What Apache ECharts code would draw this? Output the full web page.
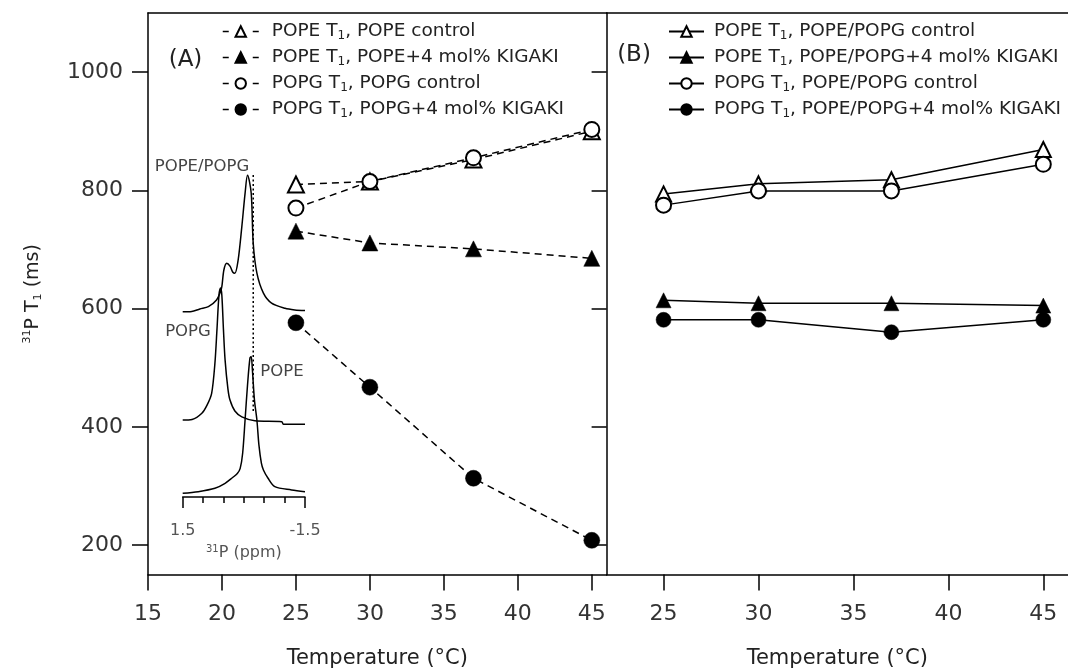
<!DOCTYPE html>
<html>
<head>
<meta charset="utf-8">
<script src="https://cdn.jsdelivr.net/npm/echarts@6/dist/echarts.min.js"></script>
<style>
html, body { margin: 0; padding: 0; background: #fff; }
#chart { width: 1068px; height: 671px; }
</style>
</head>
<body>
<div id="chart"></div>
<script>
// Temperatures (°C) at which T1 was measured
const temperatures = [25, 30, 37, 45];

// Panel A: single-lipid vesicles, 31P T1 (ms)
const popeControlA = [810, 815, 852, 900];
const popeKigakiA  = [731, 711, 701, 685];
const popgControlA = [770, 815, 855, 903];
const popgKigakiA  = [576, 467, 313, 208];

// Panel B: POPE/POPG mixed vesicles, 31P T1 (ms)
const popeControlB = [794, 811, 818, 869];
const popeKigakiB  = [614, 609, 609, 605];
const popgControlB = [775, 799, 799, 844];
const popgKigakiB  = [581, 581, 560, 581];

// Tick positions
const yTicks = [200, 400, 600, 800, 1000];
const xTicksA = [15, 20, 25, 30, 35, 40, 45];
const xTicksB = [25, 30, 35, 40, 45];
const ppmEndTicks = [-1.5, 1.5];
const ppmInnerTicks = [-1, -0.5, 0, 0.5, 1];

// Inset 31P spectra: [chemical shift (ppm), stacked intensity (a.u.)]
const spectrumMix = [
  [1.5, 57.5], [1.28, 57.6], [1.08, 58.4], [0.87, 59.1], [0.67, 61.2], [0.58, 63.5],
  [0.54, 65.3], [0.49, 70.5], [0.42, 72.6], [0.34, 71.7], [0.27, 69.8], [0.22, 69.5],
  [0.14, 73.6], [0.05, 83.9], [-0.03, 94.3], [-0.09, 100], [-0.18, 94.4], [-0.23, 78.8],
  [-0.32, 69.5], [-0.48, 63.3], [-0.68, 60.2], [-1.01, 58.6], [-1.25, 58.1], [-1.5, 57.9]
];
const spectrumPopg = [
  [1.5, 23.9], [1.27, 24.1], [1.03, 26.0], [0.9, 28.6], [0.79, 32.2], [0.71, 41.5],
  [0.66, 51.9], [0.61, 62.7], [0.57, 64.9], [0.54, 62.7], [0.5, 51.9], [0.46, 42.5],
  [0.39, 33.5], [0.34, 30.1], [0.22, 26.7], [0.05, 24.9], [-0.27, 23.7], [-0.93, 23.4],
  [-0.97, 22.6], [-1.5, 22.6]
];
const spectrumPope = [
  [1.5, 1.15], [1.12, 1.65], [0.71, 2.7], [0.46, 4.25], [0.29, 5.9], [0.16, 7.3],
  [0.09, 8.9], [0.03, 13.5], [-0.03, 23.9], [-0.09, 34.8], [-0.15, 43.2], [-0.18, 43.6],
  [-0.21, 39.4], [-0.26, 30.1], [-0.32, 23.9], [-0.37, 16.1], [-0.43, 10.5], [-0.48, 8.4],
  [-0.59, 5.9], [-0.76, 3.2], [-1.17, 2.2], [-1.5, 1.65]
];
const peakMarker = [[-0.23, 100], [-0.23, 26.5]];

const FONT = 'DejaVu Sans';
const INK = '#000';

const pairs = vals => temperatures.map((t, i) => [t, vals[i]]);

// Legend names carry a subscript "1" after T
const fmtName = n => {
  const i = n.indexOf('T1');
  return '{n|' + n.slice(0, i) + 'T}{s|1}{n|' + n.slice(i + 2) + '}';
};

function tSeries(name, vals, xi, yi, symbol, size, dashed) {
  const empty = symbol.indexOf('empty') === 0;
  return {
    name, type: 'line', xAxisIndex: xi, yAxisIndex: yi,
    data: pairs(vals), symbol, symbolSize: size, showSymbol: true,
    lineStyle: { color: INK, width: 1.5, type: dashed ? [7, 5] : 'solid' },
    itemStyle: empty ? { color: INK, borderWidth: 1.5 } : { color: INK, borderColor: INK, borderWidth: 0.5 },
    z: 5
  };
}

function spectrum(data, dotted) {
  return {
    type: 'line', xAxisIndex: 4, yAxisIndex: 2, data, symbol: 'none', silent: true,
    smooth: dotted ? false : 0.3,
    lineStyle: { color: INK, width: 1.5, type: dotted ? [2, 2.5] : 'solid' }, z: 3
  };
}

const namesA = ['POPE T1, POPE control', 'POPE T1, POPE+4 mol% KIGAKI',
                'POPG T1, POPG control', 'POPG T1, POPG+4 mol% KIGAKI'];
const namesB = ['POPE T1, POPE/POPG control', 'POPE T1, POPE/POPG+4 mol% KIGAKI',
                'POPG T1, POPE/POPG control', 'POPG T1, POPE/POPG+4 mol% KIGAKI'];

const legendText = (padLeft) => ({
  fontFamily: FONT, fontSize: 18.5, color: '#222', padding: [0, 0, 0, padLeft],
  rich: {
    n: { fontFamily: FONT, fontSize: 18.5, lineHeight: 20, color: '#222' },
    s: { fontFamily: FONT, fontSize: 12, lineHeight: 12, verticalAlign: 'bottom', color: '#222' }
  }
});

const axisLbl = { fontFamily: FONT, fontSize: 22, color: '#333' };

const hiddenTopAxis = (gi) => ({
  gridIndex: gi, type: 'value', position: 'top', min: 0, max: 1,
  axisLine: { show: true, lineStyle: { color: INK, width: 1.5 } },
  axisTick: { show: false }, axisLabel: { show: false }, splitLine: { show: false }
});

const option = {
  animation: false,
  backgroundColor: '#fff',
  grid: [
    { left: 148, top: 13, width: 458.6, height: 561.6, outerBoundsMode: 'none', containLabel: false },
    { left: 606.6, top: 13, right: 0, height: 561.6, outerBoundsMode: 'none', containLabel: false },
    { left: 182.7, top: 175, width: 122.3, height: 322, outerBoundsMode: 'none', containLabel: false }
  ],
  xAxis: [
    {
      gridIndex: 0, type: 'value', min: 15, max: 46, position: 'bottom',
      name: 'Temperature (°C)', nameLocation: 'middle', nameGap: 73,
      nameTextStyle: { fontFamily: FONT, fontSize: 21, color: '#222' },
      axisLine: { lineStyle: { color: INK, width: 1.5 } },
      axisTick: { customValues: xTicksA, length: 16, lineStyle: { color: INK, width: 1.5 } },
      axisLabel: Object.assign({ customValues: xTicksA, margin: 29 }, axisLbl),
      splitLine: { show: false }
    },
    {
      gridIndex: 1, type: 'value', min: 22, max: 46.3, position: 'bottom',
      name: 'Temperature (°C)', nameLocation: 'middle', nameGap: 73,
      nameTextStyle: { fontFamily: FONT, fontSize: 21, color: '#222' },
      axisLine: { lineStyle: { color: INK, width: 1.5 } },
      axisTick: { customValues: xTicksB, length: 16, lineStyle: { color: INK, width: 1.5 } },
      axisLabel: Object.assign({ customValues: xTicksB, margin: 29 }, axisLbl),
      splitLine: { show: false }
    },
    hiddenTopAxis(0),
    hiddenTopAxis(1),
    {
      gridIndex: 2, type: 'value', min: -1.5, max: 1.5, inverse: true, position: 'bottom',
      name: '{sup|31}{b|P (ppm)}', nameLocation: 'middle', nameGap: 47,
      nameTextStyle: {
        rich: {
          b: { fontFamily: FONT, fontSize: 16, lineHeight: 18, color: '#555' },
          sup: { fontFamily: FONT, fontSize: 10, lineHeight: 10, verticalAlign: 'top', color: '#555' }
        }
      },
      axisLine: { lineStyle: { color: INK, width: 1.5 } },
      axisTick: { customValues: ppmEndTicks, length: 11, lineStyle: { color: INK, width: 1.5 } },
      axisLabel: { customValues: ppmEndTicks, margin: 26, fontFamily: FONT, fontSize: 16, color: '#555',
                   showMinLabel: true, showMaxLabel: true },
      splitLine: { show: false }
    },
    {
      gridIndex: 2, type: 'value', min: -1.5, max: 1.5, inverse: true, position: 'bottom',
      axisLine: { show: false },
      axisTick: { customValues: ppmInnerTicks, length: 6, lineStyle: { color: INK, width: 1.5 } },
      axisLabel: { show: false }, splitLine: { show: false }
    }
  ],
  yAxis: [
    {
      gridIndex: 0, type: 'value', min: 150, max: 1100, position: 'left',
      name: '{sup|31}{b|P T}{sub|1}{b| (ms)}', nameLocation: 'middle', nameGap: 104,
      nameTextStyle: {
        rich: {
          b: { fontFamily: FONT, fontSize: 19, lineHeight: 22, color: '#222' },
          sup: { fontFamily: FONT, fontSize: 11, lineHeight: 11, verticalAlign: 'top', color: '#222' },
          sub: { fontFamily: FONT, fontSize: 11, lineHeight: 11, verticalAlign: 'bottom', color: '#222' }
        }
      },
      axisLine: { show: true, lineStyle: { color: INK, width: 1.5 } },
      axisTick: { show: true, customValues: yTicks, length: 16, lineStyle: { color: INK, width: 1.5 } },
      axisLabel: Object.assign({ customValues: yTicks, margin: 25, formatter: v => String(v) }, axisLbl),
      splitLine: { show: false }
    },
    {
      gridIndex: 1, type: 'value', min: 150, max: 1100, position: 'left',
      axisLine: { show: true, lineStyle: { color: INK, width: 1.5 } },
      axisTick: { show: true, customValues: yTicks, length: 15, lineStyle: { color: INK, width: 1.5 } },
      axisLabel: { show: false },
      splitLine: { show: false }
    },
    {
      gridIndex: 2, type: 'value', min: 0, max: 100, show: false,
      splitLine: { show: false }
    }
  ],
  legend: [
    {
      data: namesA, left: 222, top: 22, orient: 'vertical', padding: 0,
      itemWidth: 36, itemHeight: 13, itemGap: 6.5, selectedMode: false,
      lineStyle: { type: [6, 24], width: 1.5 },
      formatter: fmtName, textStyle: legendText(8)
    },
    {
      data: namesB, left: 668, top: 22, orient: 'vertical', padding: 0,
      itemWidth: 35, itemHeight: 13, itemGap: 6.5, selectedMode: false,
      formatter: fmtName, textStyle: legendText(5)
    }
  ],
  graphic: [
    { type: 'text', x: 185.5, y: 60, style: { text: '(A)', fontFamily: FONT, fontSize: 23, fill: '#222', align: 'center', verticalAlign: 'middle' } },
    { type: 'text', x: 634, y: 55, style: { text: '(B)', fontFamily: FONT, fontSize: 23, fill: '#222', align: 'center', verticalAlign: 'middle' } },
    { type: 'text', x: 202, y: 167, style: { text: 'POPE/POPG', fontFamily: FONT, fontSize: 16.5, fill: '#444', align: 'center', verticalAlign: 'middle' } },
    { type: 'text', x: 188, y: 332, style: { text: 'POPG', fontFamily: FONT, fontSize: 16.5, fill: '#444', align: 'center', verticalAlign: 'middle' } },
    { type: 'text', x: 282, y: 372, style: { text: 'POPE', fontFamily: FONT, fontSize: 16.5, fill: '#444', align: 'center', verticalAlign: 'middle' } }
  ],
  series: [
    spectrum(spectrumMix),
    spectrum(spectrumPopg),
    spectrum(spectrumPope),
    spectrum(peakMarker, true),

    tSeries(namesA[0], popeControlA, 0, 0, 'emptyTriangle', 16, true),
    tSeries(namesA[1], popeKigakiA, 0, 0, 'triangle', 16, true),
    tSeries(namesA[2], popgControlA, 0, 0, 'emptyCircle', 15, true),
    tSeries(namesA[3], popgKigakiA, 0, 0, 'circle', 16, true),

    tSeries(namesB[0], popeControlB, 1, 1, 'emptyTriangle', 15, false),
    tSeries(namesB[1], popeKigakiB, 1, 1, 'triangle', 15, false),
    tSeries(namesB[2], popgControlB, 1, 1, 'emptyCircle', 15, false),
    tSeries(namesB[3], popgKigakiB, 1, 1, 'circle', 15, false)
  ]
};

const chart = echarts.init(document.getElementById('chart'), null, { renderer: 'canvas' });
chart.setOption(option);
</script>
</body>
</html>
